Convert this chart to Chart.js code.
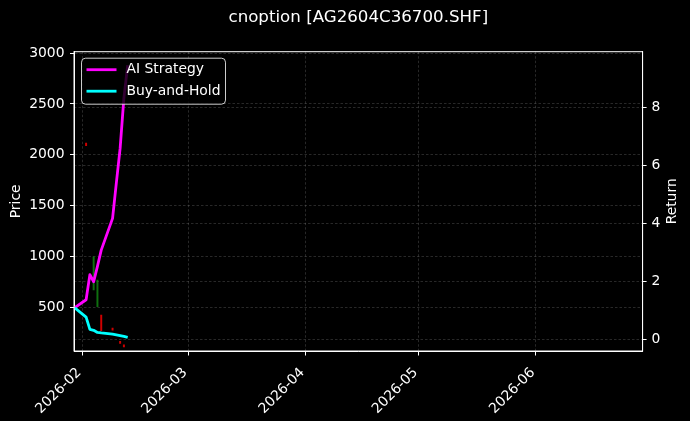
<!DOCTYPE html>
<html>
<head>
<meta charset="utf-8">
<script src="https://cdn.jsdelivr.net/npm/chart.js@4.4.1/dist/chart.umd.min.js"></script>
<style>
    html, body { margin: 0; padding: 0; background: #000; }
</style>
</head>
<body>
<canvas id="myChart" width="690" height="421"></canvas>
<script>
// --- data ---
const chartTitle = 'cnoption [AG2604C36700.SHF]';
const leftTitle = 'Price';
const rightTitle = 'Return';
const dates = ['2026-01-30', '2026-02-02', '2026-02-03', '2026-02-04', '2026-02-05', '2026-02-06',
               '2026-02-09', '2026-02-10', '2026-02-11', '2026-02-12', '2026-02-13'];
const aiStrategy = [500, 578, 825, 755, 905, 1065, 1377, 1725, 2064, 2560, 2880];
const buyHold = [500, 408, 288, 278, 257, 252, 240, 233, 226, 218, 209];

// candles (only the marks that show up)
const candleDates = ['2026-02-02', '2026-02-04', '2026-02-05', '2026-02-06', '2026-02-09', '2026-02-11', '2026-02-12'];
const candleHigh = [2115, 1000, 772, 428, 300, 170, 135];
const candleLow = [2090, 674, 510, 274, 280, 150, 115];
const candleUp = [false, true, true, false, false, false, false];

const monthTicks = ['2026-02-01', '2026-03-01', '2026-04-01', '2026-05-01', '2026-06-01'];
const monthLabels = ['2026-02', '2026-03', '2026-04', '2026-05', '2026-06'];
const priceTicks = [500, 1000, 1500, 2000, 2500, 3000];
const returnTicks = [0, 2, 4, 6, 8];

// dates -> days since 2026-02-01
const DAY = 86400000;
const origin = Date.parse('2026-02-01T00:00:00Z');
const toDay = s => (Date.parse(s + 'T00:00:00Z') - origin) / DAY;

const gridColor = 'rgba(150,150,150,0.45)';
const fontMain = { family: 'DejaVu Sans', size: 13.89 };

Chart.defaults.font.family = 'DejaVu Sans';
Chart.defaults.color = '#fff';

const frameAndText = {
    id: 'frameAndText',
    beforeDraw(chart) {
        const ctx = chart.ctx;
        ctx.save();
        ctx.fillStyle = '#000';
        ctx.fillRect(0, 0, chart.width, chart.height);
        ctx.restore();
    },
    afterDraw(chart) {
        const ctx = chart.ctx;
        const a = chart.chartArea;
        const midY = (a.top + a.bottom) / 2;
        ctx.save();
        // spines
        ctx.strokeStyle = '#fff';
        ctx.lineWidth = 1;
        ctx.strokeRect(a.left, a.top, a.right - a.left, a.bottom - a.top);

        // title
        ctx.fillStyle = '#fff';
        ctx.font = '16.67px "DejaVu Sans"';
        ctx.textAlign = 'center';
        ctx.textBaseline = 'middle';
        ctx.fillText(chartTitle, (a.left + a.right) / 2, 18);

        // axis titles, both reading bottom to top
        ctx.font = '13.89px "DejaVu Sans"';
        [[16, leftTitle], [672.7, rightTitle]].forEach(([x, t]) => {
            ctx.save();
            ctx.translate(x, midY);
            ctx.rotate(-Math.PI / 2);
            ctx.fillText(t, 0, 0);
            ctx.restore();
        });

        // legend box, upper left inside the plot
        const bx = a.left + 7.5, by = a.top + 6.5, bw = 144, bh = 46, r = 4;
        ctx.beginPath();
        ctx.roundRect(bx, by, bw, bh, r);
        ctx.fillStyle = 'rgba(0,0,0,0.8)';
        ctx.fill();
        ctx.strokeStyle = 'rgba(255,255,255,0.8)';
        ctx.lineWidth = 1;
        ctx.stroke();

        const items = chart.data.datasets.filter(d => d.type === 'line');
        ctx.font = '13.89px "DejaVu Sans"';
        ctx.textAlign = 'left';
        items.forEach((d, i) => {
            const y = by + 11.5 + i * 21.5;
            ctx.beginPath();
            ctx.moveTo(bx + 5, y);
            ctx.lineTo(bx + 35, y);
            ctx.strokeStyle = d.borderColor;
            ctx.lineWidth = d.borderWidth;
            ctx.stroke();
            ctx.fillStyle = '#fff';
            ctx.fillText(d.label, bx + 45, y);
        });
        ctx.restore();
    }
};

var ctx = document.getElementById('myChart').getContext('2d');
var myChart = new Chart(ctx, {
    type: 'line',
    data: {
        datasets: [{
            type: 'bar',
            label: 'candles',
            data: candleDates.map((d, i) => ({ x: toDay(d), y: [candleLow[i], candleHigh[i]] })),
            backgroundColor: candleUp.map(u => u ? 'rgba(20,150,20,0.75)' : 'rgba(230,0,0,0.9)'),
            borderWidth: 0,
            barThickness: 1.3,
            xAxisID: 'x',
            yAxisID: 'y',
            order: 3
        }, {
            type: 'line',
            label: 'AI Strategy',
            data: dates.map((d, i) => ({ x: toDay(d), y: aiStrategy[i] })),
            borderColor: '#ff00ff',
            borderWidth: 2.8,
            pointRadius: 0,
            tension: 0,
            fill: false,
            borderJoinStyle: 'round',
            xAxisID: 'x',
            yAxisID: 'y',
            order: 2
        }, {
            type: 'line',
            label: 'Buy-and-Hold',
            data: dates.map((d, i) => ({ x: toDay(d), y: buyHold[i] })),
            borderColor: '#00ffff',
            borderWidth: 2.8,
            pointRadius: 0,
            tension: 0,
            fill: false,
            borderJoinStyle: 'round',
            xAxisID: 'x',
            yAxisID: 'y',
            order: 1
        }]
    },
    options: {
        responsive: false,
        animation: false,
        devicePixelRatio: 1,
        layout: { padding: { top: 51.7, left: 0, right: 0, bottom: 0 } },
        plugins: {
            legend: { display: false },
            tooltip: { enabled: false },
            title: { display: false }
        },
        scales: {
            x: {
                type: 'linear',
                min: -2.2,
                max: 148.2,
                offset: false,
                afterBuildTicks: s => { s.ticks = monthTicks.map(d => ({ value: toDay(d) })); },
                afterFit: s => { s.height = 70; },
                ticks: {
                    color: '#fff',
                    font: fontMain,
                    minRotation: 45,
                    maxRotation: 45,
                    autoSkip: false,
                    padding: 9,
                    labelOffset: -3,
                    callback: (v, i) => monthLabels[i]
                },
                grid: { color: gridColor, lineWidth: 0.6, tickColor: '#fff', tickLength: 4.5, tickWidth: 1, offset: false },
                border: { color: '#fff', width: 1, dash: [2.5, 2] }
            },
            y: {
                type: 'linear',
                position: 'left',
                min: 75,
                max: 3013,
                afterBuildTicks: s => { s.ticks = priceTicks.map(v => ({ value: v })); },
                afterFit: s => { s.width = 74; },
                ticks: { color: '#fff', font: fontMain, padding: 5.5, callback: v => String(v) },
                grid: { color: gridColor, lineWidth: 0.6, tickColor: '#fff', tickLength: 4, tickWidth: 1 },
                border: { color: '#fff', width: 1, dash: [2.5, 2] }
            },
            y1: {
                type: 'linear',
                position: 'right',
                min: -0.415,
                max: 9.94,
                afterBuildTicks: s => { s.ticks = returnTicks.map(v => ({ value: v })); },
                afterFit: s => { s.width = 47.4; },
                ticks: { color: '#fff', font: fontMain, padding: 5, callback: v => String(v) },
                grid: { color: gridColor, lineWidth: 0.6, tickColor: '#fff', tickLength: 4, tickWidth: 1 },
                border: { color: '#fff', width: 1, dash: [2.5, 2] }
            }
        }
    },
    plugins: [frameAndText]
});
</script>
</body>
</html>
